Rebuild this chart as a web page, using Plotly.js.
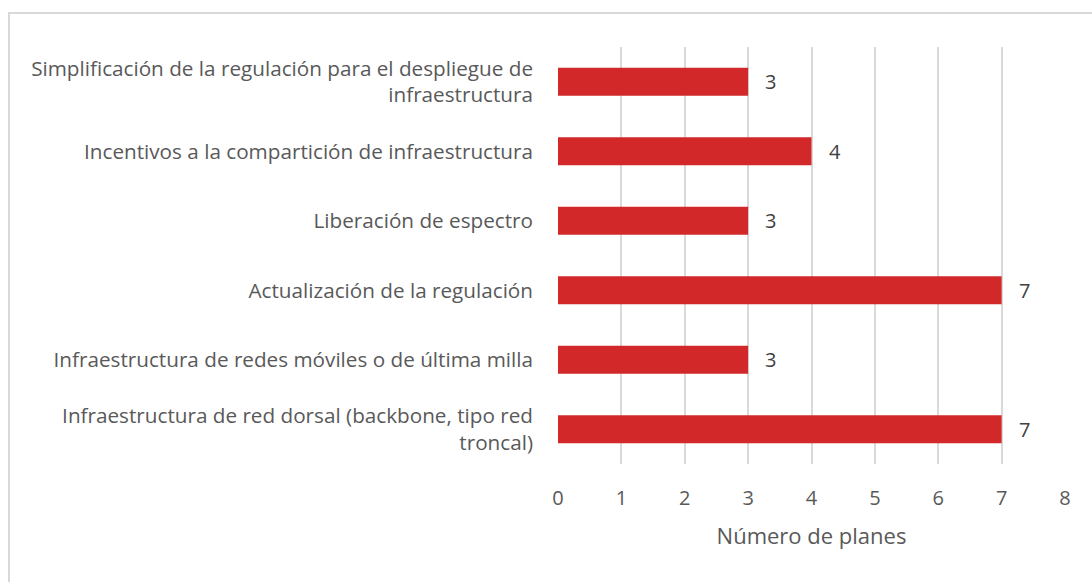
<!DOCTYPE html>
<html>
<head>
<meta charset="utf-8">
<script src="https://cdn.plot.ly/plotly-3.0.1.min.js"></script>
<style>
html,body{margin:0;padding:0;background:#fff;}
#frame{position:absolute;left:8px;top:12px;width:1100px;height:600px;border-top:2px solid #d9d9d9;border-left:2px solid #d9d9d9;box-sizing:border-box;pointer-events:none;z-index:5;}
#chart{position:absolute;left:0;top:0;width:1092px;height:582px;}
</style>
</head>
<body>
<div id="chart"></div>
<div id="frame"></div>
<script>
const categories = [
  "Simplificación de la regulación para el despliegue de<br>infraestructura",
  "Incentivos a la compartición de infraestructura",
  "Liberación de espectro",
  "Actualización de la regulación",
  "Infraestructura de redes móviles o de última milla",
  "Infraestructura de red dorsal (backbone, tipo red<br>troncal)"
];
const values = [3, 4, 3, 7, 3, 7];
const xTicks = [0, 1, 2, 3, 4, 5, 6, 7, 8];
const xTitle = "Número de planes";

const fontFamily = "'Open Sans', sans-serif";
const textColor = "#595959";

const trace = {
  type: "bar",
  orientation: "h",
  x: values,
  y: categories,
  width: 0.4,
  marker: {color: "#d2282a", line: {width: 0}},
  hoverinfo: "none"
};

const annotations = values.map((v, i) => ({
  x: v,
  y: categories[i],
  xref: "x",
  yref: "y",
  text: String(v),
  showarrow: false,
  xanchor: "left",
  yanchor: "middle",
  xshift: 15,
  font: {family: fontFamily, size: 20, color: "#404040"}
}));

const layout = {
  width: 1092,
  height: 582,
  margin: {l: 558, r: 27, t: 47, b: 118},
  paper_bgcolor: "#ffffff",
  plot_bgcolor: "#ffffff",
  showlegend: false,
  font: {family: fontFamily, size: 20, color: textColor},
  annotations: annotations,
  xaxis: {
    range: [0, 8],
    tickvals: xTicks,
    ticktext: xTicks.map(String),
    showgrid: true,
    gridcolor: "#d9d9d9",
    gridwidth: 2,
    zeroline: false,
    showline: false,
    ticks: "",
    ticklabelstandoff: 20,
    tickfont: {family: fontFamily, size: 20, color: textColor},
    title: {text: xTitle, font: {family: fontFamily, size: 22, color: textColor}, standoff: 18},
    fixedrange: true
  },
  yaxis: {
    autorange: "reversed",
    showgrid: false,
    zeroline: false,
    showline: false,
    ticks: "",
    ticklabelstandoff: 24,
    tickfont: {family: fontFamily, size: 20.7, color: textColor},
    fixedrange: true
  },
  bargap: 0.6
};

Plotly.newPlot("chart", [trace], layout, {displayModeBar: false, staticPlot: true});
</script>
</body>
</html>
